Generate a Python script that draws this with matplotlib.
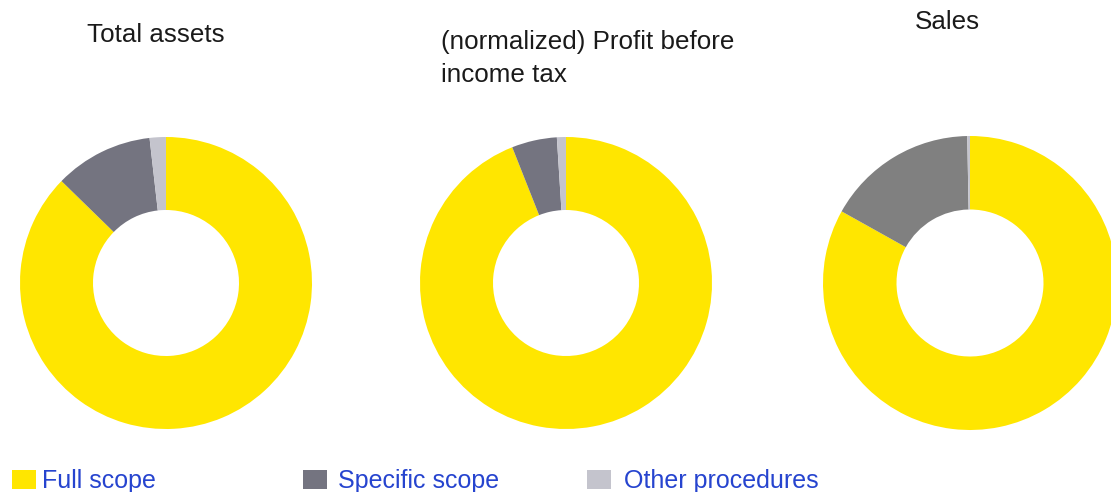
import matplotlib
matplotlib.use("Agg")
import matplotlib.pyplot as plt
from matplotlib.patches import Rectangle

# ---- data ----
titles = ["Total assets", "(normalized) Profit before\nincome tax", "Sales"]
categories = ["Full scope", "Specific scope", "Other procedures"]
total_assets = [87.3, 10.9, 1.8]
profit_before_tax = [94.0, 5.0, 1.0]
sales = [83.1, 16.6, 0.3]
series = [total_assets, profit_before_tax, sales]

colors = ["#FFE600", "#747480", "#C4C4CD"]
colors_sales = ["#FFE600", "#808080", "#C4C4CD"]
legend_colors = ["#FFE600", "#747480", "#C4C4CD"]
text_blue = "#2644CF"

W, H = 1111, 492
fig = plt.figure(figsize=(W / 100, H / 100), dpi=100)
fig.patch.set_facecolor("white")

FONT = "Liberation Sans"

# pie positions in pixels (center x, center y from top, radius)
pies = [(166, 283, 146), (566, 283, 146), (970, 283, 147)]
# baseline of the last line of each title (pixels from top)
title_pos = [(87, 42), (441, 82), (915, 29)]

for i, (vals, (cx, cy, r)) in enumerate(zip(series, pies)):
    ax = fig.add_axes([(cx - r) / W, (H - cy - r) / H, 2 * r / W, 2 * r / H])
    cols = colors_sales if i == 2 else colors
    ax.pie(vals, colors=cols, startangle=90, counterclock=False, radius=1.0,
           wedgeprops=dict(width=0.5, edgecolor="none", linewidth=0))
    ax.set_xlim(-1, 1)
    ax.set_ylim(-1, 1)
    ax.set_aspect("equal")
    ax.axis("off")

for t, (x, y) in zip(titles, title_pos):
    fig.text(x / W, 1 - y / H, t, ha="left", va="baseline", fontsize=18.7,
             family=FONT, color="#1a1a1a", linespacing=1.47)

# legend
sq_x = [12, 303, 587]
txt_x = [42, 338, 624]
for lab, c, sx, tx in zip(categories, legend_colors, sq_x, txt_x):
    fig.patches.append(Rectangle((sx / W, 1 - 489 / H), 24 / W, 19 / H,
                                 transform=fig.transFigure, facecolor=c,
                                 edgecolor="none"))
    fig.text(tx / W, 1 - 488 / H, lab, ha="left", va="baseline", fontsize=18.0,
             family=FONT, color=text_blue)

fig.savefig("out.png", dpi=100, facecolor="white")
